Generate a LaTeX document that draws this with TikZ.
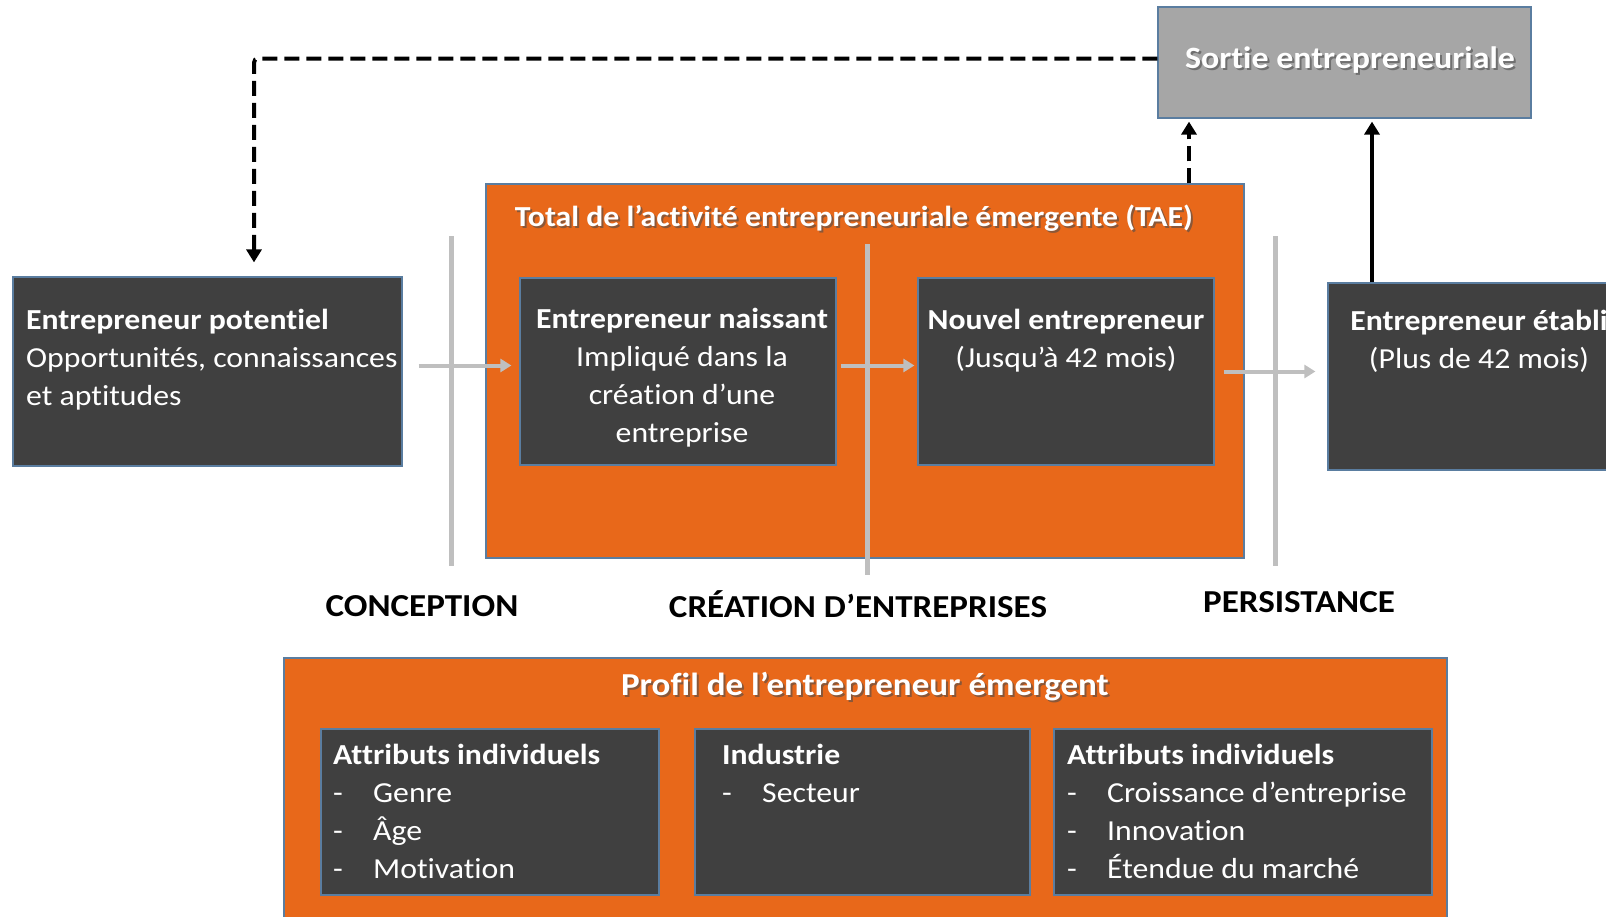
\documentclass[tikz,border=0pt]{standalone}
\usepackage{fontspec}
\setmainfont{Carlito}[FakeStretch=1.095, RawFeature={-liga;-calt;-dlig}]
\usetikzlibrary{arrows.meta}

\definecolor{orangeGEM}{HTML}{E8681A}
\definecolor{boite}{HTML}{404040}
\definecolor{bord}{HTML}{5A7DA0}
\definecolor{grisSortie}{HTML}{A6A6A6}
\definecolor{separateur}{HTML}{BFBFBF}
\newcommand{\corps}{\fontsize{29}{38}\selectfont}
\newcommand{\puce}[1]{\makebox[40pt][l]{-}#1}

\begin{document}
\begin{tikzpicture}[x=1pt, y=-1pt,
  boitesombre/.style={draw=bord, line width=1.2pt, fill=boite, inner sep=0pt},
  cadre/.style={draw=bord, line width=1.2pt, fill=orangeGEM, inner sep=0pt},
  texte/.style={text=white, font=\corps, inner sep=0pt},
  titre/.style={text=white, font=\corps\bfseries, inner sep=0pt},
  ombre/.style={text=black!70, font=\corps\bfseries, inner sep=0pt, opacity=0.6},
  etape/.style={font=\fontsize{32}{36}\selectfont\bfseries, inner sep=0pt},
  flux/.style={draw=separateur, line width=4pt, -{Triangle[width=13pt,length=11pt]}},
  retour/.style={line width=4pt, -{Triangle[width=15pt,length=13pt]}}]
  \clip (0,0) rectangle (1606,916);

  % Sortie (haut droite)
  \node[fill=grisSortie, draw=bord, line width=1.2pt, minimum width=373pt, minimum height=111pt] (sortie) at (1344.5,62.5) {};
  \node[ombre, font=\fontsize{31}{38}\selectfont\bfseries] (sortie-ombre) at (1352,62) {Sortie entrepreneuriale};
  \node[titre, font=\fontsize{31}{38}\selectfont\bfseries] (sortie-titre) at (1350,60) {Sortie entrepreneuriale};

  % Cadre TAE
  \node[cadre, minimum width=758pt, minimum height=374pt] (tae) at (865,371) {};
  \node[ombre] (tae-ombre) at (856,220) {Total de l’activité entrepreneuriale émergente (TAE)};
  \node[titre] (tae-titre) at (854,218) {Total de l’activité entrepreneuriale émergente (TAE)};

  % Separateurs des phases
  \foreach \x/\haut/\bas in {451/236/566, 867/244/575, 1275/236/566}
    \draw[separateur, line width=5pt] (\x,\haut) -- (\x,\bas);

  % Etapes de l'entrepreneur
  \node[boitesombre, minimum width=389pt, minimum height=189pt] (pot) at (207.5,371.5) {};
  \node[boitesombre, minimum width=316pt, minimum height=187pt] (nais) at (678,371.5) {};
  \node[boitesombre, minimum width=296pt, minimum height=187pt] (nouv) at (1066,371.5) {};
  \node[boitesombre, minimum width=304pt, minimum height=187pt] (etab) at (1480,376.5) {};

  \node[texte, anchor=north west, align=left] (pot-txt) at (26,309)
    {{\bfseries Entrepreneur potentiel}\\Opportunités, connaissances\\et aptitudes};
  \node[texte, anchor=north, align=center] (nais-txt) at (682,308)
    {{\bfseries Entrepreneur naissant}\\Impliqué dans la\\création d’une\\entreprise};
  \node[texte, anchor=north, align=center] (nouv-txt) at (1066,309)
    {{\bfseries Nouvel entrepreneur}\\(Jusqu’à 42 mois)};
  \node[texte, anchor=north, align=center] (etab-txt) at (1479,310)
    {{\bfseries Entrepreneur établi}\\(Plus de 42 mois)};

  % Fleches entre les etapes
  \draw[flux, shorten <=16pt, shorten >=8pt] ([yshift=6pt]pot.east) -- ([yshift=6pt]nais.west);
  \draw[flux, shorten <=4pt, shorten >=3pt] ([yshift=6pt]nais.east) -- ([yshift=6pt]nouv.west);
  \draw[flux, shorten <=9pt, shorten >=12pt] (nouv.east) -- (nouv.east -| etab.west);

  % Fleches vers la sortie
  \draw[retour, dash pattern=on 15pt off 7pt, rounded corners=4pt, shorten >=14pt]
    ([yshift=4pt]sortie.west) -| ([xshift=46.5pt]pot.north);
  \draw[retour, dash pattern=on 15pt off 7pt, shorten >=3pt]
    ([xshift=324pt]tae.north) -- ([xshift=324pt]tae.north |- sortie.south);
  \draw[retour, shorten >=3pt]
    ([xshift=-108pt]etab.north) -- ([xshift=-108pt]etab.north |- sortie.south);

  % Phases
  \node[etape] (conception) at (422,606) {CONCEPTION};
  \node[etape] (creation) at (858,604) {CRÉATION D’ENTREPRISES};
  \node[etape] (persistance) at (1299,602) {PERSISTANCE};

  % Profil de l'entrepreneur emergent
  \node[cadre, minimum width=1163pt, minimum height=282pt] (profil) at (865.5,799) {};
  \node[ombre, font=\fontsize{32}{38}\selectfont\bfseries] (profil-ombre) at (867,689) {Profil de l’entrepreneur émergent};
  \node[titre, font=\fontsize{32}{38}\selectfont\bfseries] (profil-titre) at (865,687) {Profil de l’entrepreneur émergent};

  \node[boitesombre, minimum width=338pt, minimum height=166pt] (attr1) at (490,812) {};
  \node[boitesombre, minimum width=335pt, minimum height=166pt] (indus) at (862.5,812) {};
  \node[boitesombre, minimum width=378pt, minimum height=166pt] (attr2) at (1243,812) {};

  \node[texte, anchor=north west, align=left] (attr1-txt) at (333,744)
    {{\bfseries Attributs individuels}\\\puce{Genre}\\\puce{Âge}\\\puce{Motivation}};
  \node[texte, anchor=north west, align=left] (indus-txt) at (722,744)
    {{\bfseries Industrie}\\\puce{Secteur}};
  \node[texte, anchor=north west, align=left] (attr2-txt) at (1067,744)
    {{\bfseries Attributs individuels}\\\puce{Croissance d’entreprise}\\\puce{Innovation}\\\puce{Étendue du marché}};
\end{tikzpicture}
\end{document}
